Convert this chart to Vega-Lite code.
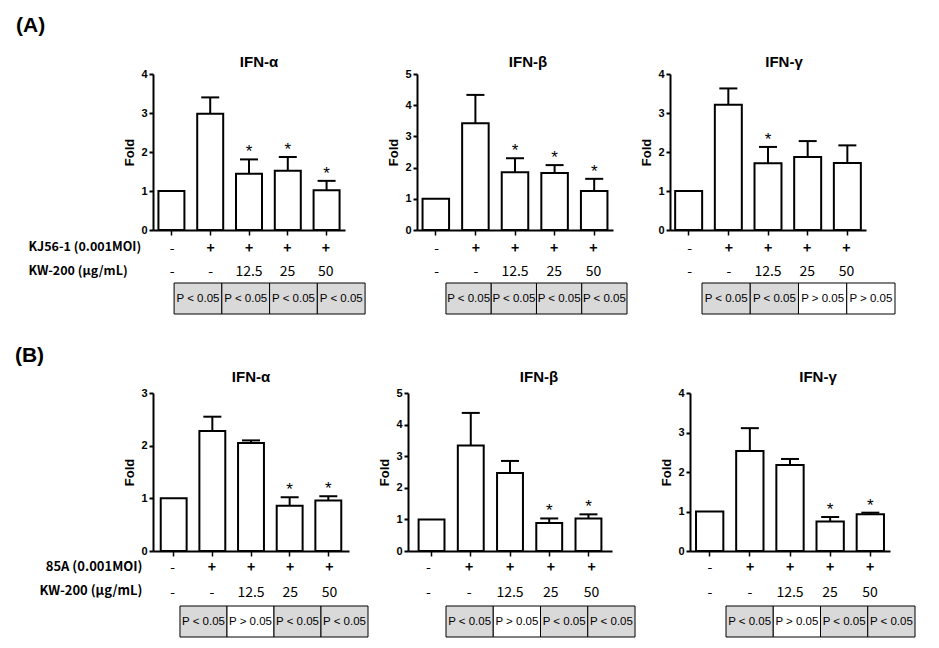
{
 "$schema": "https://vega.github.io/schema/vega-lite/v6.json",
 "padding": {"left": 14, "top": 15, "right": 5, "bottom": 5},
 "config": {
  "font": "Liberation Sans",
  "view": {"stroke": null},
  "axis": {"grid": false, "domainColor": "black", "tickColor": "black", "labelColor": "black", "titleColor": "black"},
  "title": {"color": "black", "fontWeight": "bold", "font": "Liberation Sans"}
 },
 "datasets": {
  "bars": [
   {"panel": "A1", "group": 1, "value": 1.0, "top": 1.0, "star": false},
   {"panel": "A1", "group": 2, "value": 2.98, "top": 3.40, "star": false},
   {"panel": "A1", "group": 3, "value": 1.44, "top": 1.81, "star": true},
   {"panel": "A1", "group": 4, "value": 1.52, "top": 1.87, "star": true},
   {"panel": "A1", "group": 5, "value": 1.02, "top": 1.26, "star": true},
   {"panel": "A2", "group": 1, "value": 1.0, "top": 1.0, "star": false},
   {"panel": "A2", "group": 2, "value": 3.42, "top": 4.33, "star": false},
   {"panel": "A2", "group": 3, "value": 1.85, "top": 2.30, "star": true},
   {"panel": "A2", "group": 4, "value": 1.83, "top": 2.08, "star": true},
   {"panel": "A2", "group": 5, "value": 1.25, "top": 1.64, "star": true},
   {"panel": "A3", "group": 1, "value": 1.0, "top": 1.0, "star": false},
   {"panel": "A3", "group": 2, "value": 3.21, "top": 3.63, "star": false},
   {"panel": "A3", "group": 3, "value": 1.71, "top": 2.13, "star": true},
   {"panel": "A3", "group": 4, "value": 1.87, "top": 2.28, "star": false},
   {"panel": "A3", "group": 5, "value": 1.72, "top": 2.17, "star": false},
   {"panel": "B1", "group": 1, "value": 1.0, "top": 1.0, "star": false},
   {"panel": "B1", "group": 2, "value": 2.28, "top": 2.55, "star": false},
   {"panel": "B1", "group": 3, "value": 2.05, "top": 2.10, "star": false},
   {"panel": "B1", "group": 4, "value": 0.86, "top": 1.02, "star": true},
   {"panel": "B1", "group": 5, "value": 0.96, "top": 1.04, "star": true},
   {"panel": "B2", "group": 1, "value": 1.0, "top": 1.0, "star": false},
   {"panel": "B2", "group": 2, "value": 3.34, "top": 4.37, "star": false},
   {"panel": "B2", "group": 3, "value": 2.47, "top": 2.85, "star": false},
   {"panel": "B2", "group": 4, "value": 0.89, "top": 1.03, "star": true},
   {"panel": "B2", "group": 5, "value": 1.03, "top": 1.16, "star": true},
   {"panel": "B3", "group": 1, "value": 1.0, "top": 1.0, "star": false},
   {"panel": "B3", "group": 2, "value": 2.53, "top": 3.11, "star": false},
   {"panel": "B3", "group": 3, "value": 2.18, "top": 2.33, "star": false},
   {"panel": "B3", "group": 4, "value": 0.75, "top": 0.86, "star": true},
   {"panel": "B3", "group": 5, "value": 0.93, "top": 0.97, "star": true}
  ],
  "cond": [
   {"set": "A", "row": "KJ56-1 (0.001MOI)", "group": 1, "label": "-"},
   {"set": "A", "row": "KJ56-1 (0.001MOI)", "group": 2, "label": "+"},
   {"set": "A", "row": "KJ56-1 (0.001MOI)", "group": 3, "label": "+"},
   {"set": "A", "row": "KJ56-1 (0.001MOI)", "group": 4, "label": "+"},
   {"set": "A", "row": "KJ56-1 (0.001MOI)", "group": 5, "label": "+"},
   {"set": "A", "row": "KW-200 (μg/mL)", "group": 1, "label": "-"},
   {"set": "A", "row": "KW-200 (μg/mL)", "group": 2, "label": "-"},
   {"set": "A", "row": "KW-200 (μg/mL)", "group": 3, "label": "12.5"},
   {"set": "A", "row": "KW-200 (μg/mL)", "group": 4, "label": "25"},
   {"set": "A", "row": "KW-200 (μg/mL)", "group": 5, "label": "50"},
   {"set": "B", "row": "85A (0.001MOI)", "group": 1, "label": "-"},
   {"set": "B", "row": "85A (0.001MOI)", "group": 2, "label": "+"},
   {"set": "B", "row": "85A (0.001MOI)", "group": 3, "label": "+"},
   {"set": "B", "row": "85A (0.001MOI)", "group": 4, "label": "+"},
   {"set": "B", "row": "85A (0.001MOI)", "group": 5, "label": "+"},
   {"set": "B", "row": "KW-200 (μg/mL)", "group": 1, "label": "-"},
   {"set": "B", "row": "KW-200 (μg/mL)", "group": 2, "label": "-"},
   {"set": "B", "row": "KW-200 (μg/mL)", "group": 3, "label": "12.5"},
   {"set": "B", "row": "KW-200 (μg/mL)", "group": 4, "label": "25"},
   {"set": "B", "row": "KW-200 (μg/mL)", "group": 5, "label": "50"}
  ],
  "ptab": [
   {"panel": "A1", "cell": 1, "p": "P < 0.05"},
   {"panel": "A1", "cell": 2, "p": "P < 0.05"},
   {"panel": "A1", "cell": 3, "p": "P < 0.05"},
   {"panel": "A1", "cell": 4, "p": "P < 0.05"},
   {"panel": "A2", "cell": 1, "p": "P < 0.05"},
   {"panel": "A2", "cell": 2, "p": "P < 0.05"},
   {"panel": "A2", "cell": 3, "p": "P < 0.05"},
   {"panel": "A2", "cell": 4, "p": "P < 0.05"},
   {"panel": "A3", "cell": 1, "p": "P < 0.05"},
   {"panel": "A3", "cell": 2, "p": "P < 0.05"},
   {"panel": "A3", "cell": 3, "p": "P > 0.05"},
   {"panel": "A3", "cell": 4, "p": "P > 0.05"},
   {"panel": "B1", "cell": 1, "p": "P < 0.05"},
   {"panel": "B1", "cell": 2, "p": "P > 0.05"},
   {"panel": "B1", "cell": 3, "p": "P < 0.05"},
   {"panel": "B1", "cell": 4, "p": "P < 0.05"},
   {"panel": "B2", "cell": 1, "p": "P < 0.05"},
   {"panel": "B2", "cell": 2, "p": "P > 0.05"},
   {"panel": "B2", "cell": 3, "p": "P < 0.05"},
   {"panel": "B2", "cell": 4, "p": "P < 0.05"},
   {"panel": "B3", "cell": 1, "p": "P < 0.05"},
   {"panel": "B3", "cell": 2, "p": "P > 0.05"},
   {"panel": "B3", "cell": 3, "p": "P < 0.05"},
   {"panel": "B3", "cell": 4, "p": "P < 0.05"}
  ]
 },
 "spacing": 30,
 "resolve": {"scale": {"x": "independent", "y": "independent"}},
 "vconcat": [
  {
   "title": {"text": "(A)", "anchor": "start", "fontSize": 21, "offset": 19, "dx": -12},
   "spacing": 12,
   "resolve": {"scale": {"x": "independent", "y": "independent"}},
   "hconcat": [
    {
     "spacing": 3, "bounds": "flush",
     "resolve": {"scale": {"x": "independent", "y": "independent"}},
     "vconcat": [
      {
       "width": 192, "height": 156,
       "title": {"text": "IFN-α", "fontSize": 15, "dx": 10, "offset": -2},
       "data": {"name": "bars"},
       "transform": [{"filter": "datum.panel === 'A1'"}],
       "encoding": {
        "x": {"field": "group", "type": "ordinal", "scale": {"domain": [1, 2, 3, 4, 5], "paddingInner": 0.33, "paddingOuter": 0.14}, "axis": {"labels": false, "title": null, "tickSize": 5, "tickWidth": 1.5, "domainWidth": 2}},
        "y": {"field": "value", "type": "quantitative", "scale": {"domain": [0, 4], "nice": false}, "axis": {"title": "Fold", "values": [0, 1, 2, 3, 4], "labelFontWeight": "bold", "labelFontSize": 11, "tickSize": 4, "tickWidth": 2, "domainWidth": 2, "labelPadding": 2, "titleFontSize": 13, "titleFontWeight": "bold", "titlePadding": 4}}
       },
       "layer": [
        {"mark": {"type": "bar", "fill": "white", "stroke": "black", "strokeWidth": 2}},
        {"transform": [{"filter": "datum.top > datum.value"}], "mark": {"type": "rule", "strokeWidth": 2, "color": "black"}, "encoding": {"y2": {"field": "top"}}},
        {"transform": [{"filter": "datum.top > datum.value"}], "mark": {"type": "tick", "orient": "horizontal", "size": 18, "thickness": 2, "color": "black", "opacity": 1}, "encoding": {"y": {"field": "top", "type": "quantitative"}}},
        {"transform": [{"filter": "datum.star"}], "mark": {"type": "text", "text": "*", "fontSize": 17, "baseline": "alphabetic", "dy": -2}, "encoding": {"y": {"field": "top", "type": "quantitative"}}}
       ]
      },
      {
       "width": 192, "height": 47,
       "data": {"name": "cond"},
       "transform": [{"filter": "datum.set === 'A'"}],
       "encoding": {
        "x": {"field": "group", "type": "ordinal", "scale": {"domain": [1, 2, 3, 4, 5], "paddingInner": 0.33, "paddingOuter": 0.14}, "axis": null},
        "y": {"field": "row", "type": "nominal", "scale": {"domain": ["KJ56-1 (0.001MOI)", "KW-200 (μg/mL)"], "paddingInner": 0, "paddingOuter": 0}, "axis": {"title": null, "domain": false, "ticks": false, "labelAlign": "left", "labelPadding": 125, "labelFontWeight": "bold", "labelFontSize": 12.5, "labelFont": "Noto Sans CJK KR", "labelOffset": 2}},
        "text": {"field": "label", "type": "nominal"}
       },
       "layer": [
        {"transform": [{"filter": "datum.label !== '+'"}], "mark": {"type": "text", "fontSize": 14, "dy": 4, "font": "Noto Sans CJK KR"}},
        {"transform": [{"filter": "datum.label === '+'"}], "mark": {"type": "text", "fontSize": 14, "fontWeight": "bold", "dy": 4, "font": "Noto Sans CJK KR"}}
       ]
      },
      {
       "width": 222, "height": 31,
       "data": {"name": "ptab"},
       "transform": [{"filter": "datum.panel === 'A1'"}],
       "encoding": {"x": {"field": "cell", "type": "ordinal", "scale": {"domain": [1, 2, 3, 4], "paddingInner": 0, "paddingOuter": 0.3246, "align": 0.68}, "axis": null}},
       "layer": [
        {"mark": {"type": "rect", "stroke": "black", "strokeWidth": 1}, "encoding": {"fill": {"field": "p", "type": "nominal", "scale": {"domain": ["P < 0.05", "P > 0.05"], "range": ["#d9d9d9", "#ffffff"]}, "legend": null}}},
        {"mark": {"type": "text", "fontSize": 11.5}, "encoding": {"text": {"field": "p", "type": "nominal"}}}
       ]
      }
     ]
    },
    {
     "spacing": 3, "bounds": "flush",
     "resolve": {"scale": {"x": "independent", "y": "independent"}},
     "vconcat": [
      {
       "width": 196, "height": 156,
       "title": {"text": "IFN-β", "fontSize": 15, "dx": 13, "offset": -2},
       "data": {"name": "bars"},
       "transform": [{"filter": "datum.panel === 'A2'"}],
       "encoding": {
        "x": {"field": "group", "type": "ordinal", "scale": {"domain": [1, 2, 3, 4, 5], "paddingInner": 0.33, "paddingOuter": 0.14}, "axis": {"labels": false, "title": null, "tickSize": 5, "tickWidth": 1.5, "domainWidth": 2}},
        "y": {"field": "value", "type": "quantitative", "scale": {"domain": [0, 5], "nice": false}, "axis": {"title": "Fold", "values": [0, 1, 2, 3, 4, 5], "labelFontWeight": "bold", "labelFontSize": 11, "tickSize": 4, "tickWidth": 2, "domainWidth": 2, "labelPadding": 2, "titleFontSize": 13, "titleFontWeight": "bold", "titlePadding": 4}}
       },
       "layer": [
        {"mark": {"type": "bar", "fill": "white", "stroke": "black", "strokeWidth": 2}},
        {"transform": [{"filter": "datum.top > datum.value"}], "mark": {"type": "rule", "strokeWidth": 2, "color": "black"}, "encoding": {"y2": {"field": "top"}}},
        {"transform": [{"filter": "datum.top > datum.value"}], "mark": {"type": "tick", "orient": "horizontal", "size": 18, "thickness": 2, "color": "black", "opacity": 1}, "encoding": {"y": {"field": "top", "type": "quantitative"}}},
        {"transform": [{"filter": "datum.star"}], "mark": {"type": "text", "text": "*", "fontSize": 17, "baseline": "alphabetic", "dy": -2}, "encoding": {"y": {"field": "top", "type": "quantitative"}}}
       ]
      },
      {
       "width": 196, "height": 47,
       "data": {"name": "cond"},
       "transform": [{"filter": "datum.set === 'A'"}],
       "encoding": {
        "x": {"field": "group", "type": "ordinal", "scale": {"domain": [1, 2, 3, 4, 5], "paddingInner": 0.33, "paddingOuter": 0.14}, "axis": null},
        "y": {"field": "row", "type": "nominal", "scale": {"domain": ["KJ56-1 (0.001MOI)", "KW-200 (μg/mL)"], "paddingInner": 0, "paddingOuter": 0}, "axis": null},
        "text": {"field": "label", "type": "nominal"}
       },
       "layer": [
        {"transform": [{"filter": "datum.label !== '+'"}], "mark": {"type": "text", "fontSize": 14, "dy": 4, "font": "Noto Sans CJK KR"}},
        {"transform": [{"filter": "datum.label === '+'"}], "mark": {"type": "text", "fontSize": 14, "fontWeight": "bold", "dy": 4, "font": "Noto Sans CJK KR"}}
       ]
      },
      {
       "width": 210, "height": 31,
       "data": {"name": "ptab"},
       "transform": [{"filter": "datum.panel === 'A2'"}],
       "encoding": {"x": {"field": "cell", "type": "ordinal", "scale": {"domain": [1, 2, 3, 4], "paddingInner": 0, "paddingOuter": 0.32, "align": 1}, "axis": null}},
       "layer": [
        {"mark": {"type": "rect", "stroke": "black", "strokeWidth": 1}, "encoding": {"fill": {"field": "p", "type": "nominal", "scale": {"domain": ["P < 0.05", "P > 0.05"], "range": ["#d9d9d9", "#ffffff"]}, "legend": null}}},
        {"mark": {"type": "text", "fontSize": 11.5}, "encoding": {"text": {"field": "p", "type": "nominal"}}}
       ]
      }
     ]
    },
    {
     "spacing": 3, "bounds": "flush",
     "resolve": {"scale": {"x": "independent", "y": "independent"}},
     "vconcat": [
      {
       "width": 196, "height": 156,
       "title": {"text": "IFN-γ", "fontSize": 15, "dx": 16, "offset": -2},
       "data": {"name": "bars"},
       "transform": [{"filter": "datum.panel === 'A3'"}],
       "encoding": {
        "x": {"field": "group", "type": "ordinal", "scale": {"domain": [1, 2, 3, 4, 5], "paddingInner": 0.32, "paddingOuter": 0.13}, "axis": {"labels": false, "title": null, "tickSize": 5, "tickWidth": 1.5, "domainWidth": 2}},
        "y": {"field": "value", "type": "quantitative", "scale": {"domain": [0, 4], "nice": false}, "axis": {"title": "Fold", "values": [0, 1, 2, 3, 4], "labelFontWeight": "bold", "labelFontSize": 11, "tickSize": 4, "tickWidth": 2, "domainWidth": 2, "labelPadding": 2, "titleFontSize": 13, "titleFontWeight": "bold", "titlePadding": 4}}
       },
       "layer": [
        {"mark": {"type": "bar", "fill": "white", "stroke": "black", "strokeWidth": 2}},
        {"transform": [{"filter": "datum.top > datum.value"}], "mark": {"type": "rule", "strokeWidth": 2, "color": "black"}, "encoding": {"y2": {"field": "top"}}},
        {"transform": [{"filter": "datum.top > datum.value"}], "mark": {"type": "tick", "orient": "horizontal", "size": 18, "thickness": 2, "color": "black", "opacity": 1}, "encoding": {"y": {"field": "top", "type": "quantitative"}}},
        {"transform": [{"filter": "datum.star"}], "mark": {"type": "text", "text": "*", "fontSize": 17, "baseline": "alphabetic", "dy": -2}, "encoding": {"y": {"field": "top", "type": "quantitative"}}}
       ]
      },
      {
       "width": 196, "height": 47,
       "data": {"name": "cond"},
       "transform": [{"filter": "datum.set === 'A'"}],
       "encoding": {
        "x": {"field": "group", "type": "ordinal", "scale": {"domain": [1, 2, 3, 4, 5], "paddingInner": 0.32, "paddingOuter": 0.13}, "axis": null},
        "y": {"field": "row", "type": "nominal", "scale": {"domain": ["KJ56-1 (0.001MOI)", "KW-200 (μg/mL)"], "paddingInner": 0, "paddingOuter": 0}, "axis": null},
        "text": {"field": "label", "type": "nominal"}
       },
       "layer": [
        {"transform": [{"filter": "datum.label !== '+'"}], "mark": {"type": "text", "fontSize": 14, "dy": 4, "font": "Noto Sans CJK KR"}},
        {"transform": [{"filter": "datum.label === '+'"}], "mark": {"type": "text", "fontSize": 14, "fontWeight": "bold", "dy": 4, "font": "Noto Sans CJK KR"}}
       ]
      },
      {
       "width": 225, "height": 31,
       "data": {"name": "ptab"},
       "transform": [{"filter": "datum.panel === 'A3'"}],
       "encoding": {"x": {"field": "cell", "type": "ordinal", "scale": {"domain": [1, 2, 3, 4], "paddingInner": 0, "paddingOuter": 0.3316, "align": 1}, "axis": null}},
       "layer": [
        {"mark": {"type": "rect", "stroke": "black", "strokeWidth": 1}, "encoding": {"fill": {"field": "p", "type": "nominal", "scale": {"domain": ["P < 0.05", "P > 0.05"], "range": ["#d9d9d9", "#ffffff"]}, "legend": null}}},
        {"mark": {"type": "text", "fontSize": 11.5}, "encoding": {"text": {"field": "p", "type": "nominal"}}}
       ]
      }
     ]
    }
   ]
  },
  {
   "title": {"text": "(B)", "anchor": "start", "fontSize": 21, "offset": 4, "dx": -24},
   "spacing": 9,
   "resolve": {"scale": {"x": "independent", "y": "independent"}},
   "hconcat": [
    {
     "spacing": 3, "bounds": "flush",
     "resolve": {"scale": {"x": "independent", "y": "independent"}},
     "vconcat": [
      {
       "width": 196, "height": 158,
       "title": {"text": "IFN-α", "fontSize": 15, "dx": 0, "offset": 2},
       "data": {"name": "bars"},
       "transform": [{"filter": "datum.panel === 'B1'"}],
       "encoding": {
        "x": {"field": "group", "type": "ordinal", "scale": {"domain": [1, 2, 3, 4, 5], "paddingInner": 0.33, "paddingOuter": 0.2}, "axis": {"labels": false, "title": null, "tickSize": 5, "tickWidth": 1.5, "domainWidth": 2}},
        "y": {"field": "value", "type": "quantitative", "scale": {"domain": [0, 3], "nice": false}, "axis": {"title": "Fold", "values": [0, 1, 2, 3], "labelFontWeight": "bold", "labelFontSize": 11, "tickSize": 4, "tickWidth": 2, "domainWidth": 2, "labelPadding": 2, "titleFontSize": 13, "titleFontWeight": "bold", "titlePadding": 4}}
       },
       "layer": [
        {"mark": {"type": "bar", "fill": "white", "stroke": "black", "strokeWidth": 2}},
        {"transform": [{"filter": "datum.top > datum.value"}], "mark": {"type": "rule", "strokeWidth": 2, "color": "black"}, "encoding": {"y2": {"field": "top"}}},
        {"transform": [{"filter": "datum.top > datum.value"}], "mark": {"type": "tick", "orient": "horizontal", "size": 18, "thickness": 2, "color": "black", "opacity": 1}, "encoding": {"y": {"field": "top", "type": "quantitative"}}},
        {"transform": [{"filter": "datum.star"}], "mark": {"type": "text", "text": "*", "fontSize": 17, "baseline": "alphabetic", "dy": -2}, "encoding": {"y": {"field": "top", "type": "quantitative"}}}
       ]
      },
      {
       "width": 196, "height": 49,
       "data": {"name": "cond"},
       "transform": [{"filter": "datum.set === 'B'"}],
       "encoding": {
        "x": {"field": "group", "type": "ordinal", "scale": {"domain": [1, 2, 3, 4, 5], "paddingInner": 0.33, "paddingOuter": 0.2}, "axis": null},
        "y": {"field": "row", "type": "nominal", "scale": {"domain": ["85A (0.001MOI)", "KW-200 (μg/mL)"], "paddingInner": 0, "paddingOuter": 0}, "axis": {"title": null, "domain": false, "ticks": false, "labelAlign": "right", "labelPadding": 11, "labelFontWeight": "bold", "labelFontSize": 13, "labelFont": "Noto Sans CJK KR"}},
        "text": {"field": "label", "type": "nominal"}
       },
       "layer": [
        {"transform": [{"filter": "datum.label !== '+'"}], "mark": {"type": "text", "fontSize": 14, "dy": 2, "font": "Noto Sans CJK KR"}},
        {"transform": [{"filter": "datum.label === '+'"}], "mark": {"type": "text", "fontSize": 14, "fontWeight": "bold", "dy": 2, "font": "Noto Sans CJK KR"}}
       ]
      },
      {
       "width": 215, "height": 31,
       "data": {"name": "ptab"},
       "transform": [{"filter": "datum.panel === 'B1'"}],
       "encoding": {"x": {"field": "cell", "type": "ordinal", "scale": {"domain": [1, 2, 3, 4], "paddingInner": 0, "paddingOuter": 0.287, "align": 1}, "axis": null}},
       "layer": [
        {"mark": {"type": "rect", "stroke": "black", "strokeWidth": 1}, "encoding": {"fill": {"field": "p", "type": "nominal", "scale": {"domain": ["P < 0.05", "P > 0.05"], "range": ["#d9d9d9", "#ffffff"]}, "legend": null}}},
        {"mark": {"type": "text", "fontSize": 11.5}, "encoding": {"text": {"field": "p", "type": "nominal"}}}
       ]
      }
     ]
    },
    {
     "spacing": 3, "bounds": "flush",
     "resolve": {"scale": {"x": "independent", "y": "independent"}},
     "vconcat": [
      {
       "width": 204, "height": 158,
       "title": {"text": "IFN-β", "fontSize": 15, "dx": 29, "offset": 2},
       "data": {"name": "bars"},
       "transform": [{"filter": "datum.panel === 'B2'"}],
       "encoding": {
        "x": {"field": "group", "type": "ordinal", "scale": {"domain": [1, 2, 3, 4, 5], "paddingInner": 0.34, "paddingOuter": 0.27}, "axis": {"labels": false, "title": null, "tickSize": 5, "tickWidth": 1.5, "domainWidth": 2}},
        "y": {"field": "value", "type": "quantitative", "scale": {"domain": [0, 5], "nice": false}, "axis": {"title": "Fold", "values": [0, 1, 2, 3, 4, 5], "labelFontWeight": "bold", "labelFontSize": 11, "tickSize": 4, "tickWidth": 2, "domainWidth": 2, "labelPadding": 2, "titleFontSize": 13, "titleFontWeight": "bold", "titlePadding": 4}}
       },
       "layer": [
        {"mark": {"type": "bar", "fill": "white", "stroke": "black", "strokeWidth": 2}},
        {"transform": [{"filter": "datum.top > datum.value"}], "mark": {"type": "rule", "strokeWidth": 2, "color": "black"}, "encoding": {"y2": {"field": "top"}}},
        {"transform": [{"filter": "datum.top > datum.value"}], "mark": {"type": "tick", "orient": "horizontal", "size": 18, "thickness": 2, "color": "black", "opacity": 1}, "encoding": {"y": {"field": "top", "type": "quantitative"}}},
        {"transform": [{"filter": "datum.star"}], "mark": {"type": "text", "text": "*", "fontSize": 17, "baseline": "alphabetic", "dy": -2}, "encoding": {"y": {"field": "top", "type": "quantitative"}}}
       ]
      },
      {
       "width": 204, "height": 49,
       "data": {"name": "cond"},
       "transform": [{"filter": "datum.set === 'B'"}],
       "encoding": {
        "x": {"field": "group", "type": "ordinal", "scale": {"domain": [1, 2, 3, 4, 5], "paddingInner": 0.34, "paddingOuter": 0.27}, "axis": null},
        "y": {"field": "row", "type": "nominal", "scale": {"domain": ["85A (0.001MOI)", "KW-200 (μg/mL)"], "paddingInner": 0, "paddingOuter": 0}, "axis": null},
        "text": {"field": "label", "type": "nominal"}
       },
       "layer": [
        {"transform": [{"filter": "datum.label !== '+'"}], "mark": {"type": "text", "fontSize": 14, "dy": 2, "font": "Noto Sans CJK KR"}},
        {"transform": [{"filter": "datum.label === '+'"}], "mark": {"type": "text", "fontSize": 14, "fontWeight": "bold", "dy": 2, "font": "Noto Sans CJK KR"}}
       ]
      },
      {
       "width": 243, "height": 31,
       "data": {"name": "ptab"},
       "transform": [{"filter": "datum.panel === 'B2'"}],
       "encoding": {"x": {"field": "cell", "type": "ordinal", "scale": {"domain": [1, 2, 3, 4], "paddingInner": 0, "paddingOuter": 0.571, "align": 0.704}, "axis": null}},
       "layer": [
        {"mark": {"type": "rect", "stroke": "black", "strokeWidth": 1}, "encoding": {"fill": {"field": "p", "type": "nominal", "scale": {"domain": ["P < 0.05", "P > 0.05"], "range": ["#d9d9d9", "#ffffff"]}, "legend": null}}},
        {"mark": {"type": "text", "fontSize": 11.5}, "encoding": {"text": {"field": "p", "type": "nominal"}}}
       ]
      }
     ]
    },
    {
     "spacing": 3, "bounds": "flush",
     "resolve": {"scale": {"x": "independent", "y": "independent"}},
     "vconcat": [
      {
       "width": 200, "height": 158,
       "title": {"text": "IFN-γ", "fontSize": 15, "dx": 28, "offset": 2},
       "data": {"name": "bars"},
       "transform": [{"filter": "datum.panel === 'B3'"}],
       "encoding": {
        "x": {"field": "group", "type": "ordinal", "scale": {"domain": [1, 2, 3, 4, 5], "paddingInner": 0.32, "paddingOuter": 0.15}, "axis": {"labels": false, "title": null, "tickSize": 5, "tickWidth": 1.5, "domainWidth": 2}},
        "y": {"field": "value", "type": "quantitative", "scale": {"domain": [0, 4], "nice": false}, "axis": {"title": "Fold", "values": [0, 1, 2, 3, 4], "labelFontWeight": "bold", "labelFontSize": 11, "tickSize": 4, "tickWidth": 2, "domainWidth": 2, "labelPadding": 2, "titleFontSize": 13, "titleFontWeight": "bold", "titlePadding": 4}}
       },
       "layer": [
        {"mark": {"type": "bar", "fill": "white", "stroke": "black", "strokeWidth": 2}},
        {"transform": [{"filter": "datum.top > datum.value"}], "mark": {"type": "rule", "strokeWidth": 2, "color": "black"}, "encoding": {"y2": {"field": "top"}}},
        {"transform": [{"filter": "datum.top > datum.value"}], "mark": {"type": "tick", "orient": "horizontal", "size": 18, "thickness": 2, "color": "black", "opacity": 1}, "encoding": {"y": {"field": "top", "type": "quantitative"}}},
        {"transform": [{"filter": "datum.star"}], "mark": {"type": "text", "text": "*", "fontSize": 17, "baseline": "alphabetic", "dy": -2}, "encoding": {"y": {"field": "top", "type": "quantitative"}}}
       ]
      },
      {
       "width": 200, "height": 49,
       "data": {"name": "cond"},
       "transform": [{"filter": "datum.set === 'B'"}],
       "encoding": {
        "x": {"field": "group", "type": "ordinal", "scale": {"domain": [1, 2, 3, 4, 5], "paddingInner": 0.32, "paddingOuter": 0.15}, "axis": null},
        "y": {"field": "row", "type": "nominal", "scale": {"domain": ["85A (0.001MOI)", "KW-200 (μg/mL)"], "paddingInner": 0, "paddingOuter": 0}, "axis": null},
        "text": {"field": "label", "type": "nominal"}
       },
       "layer": [
        {"transform": [{"filter": "datum.label !== '+'"}], "mark": {"type": "text", "fontSize": 14, "dy": 2, "font": "Noto Sans CJK KR"}},
        {"transform": [{"filter": "datum.label === '+'"}], "mark": {"type": "text", "fontSize": 14, "fontWeight": "bold", "dy": 2, "font": "Noto Sans CJK KR"}}
       ]
      },
      {
       "width": 225, "height": 31,
       "data": {"name": "ptab"},
       "transform": [{"filter": "datum.panel === 'B3'"}],
       "encoding": {"x": {"field": "cell", "type": "ordinal", "scale": {"domain": [1, 2, 3, 4], "paddingInner": 0, "paddingOuter": 0.381, "align": 1}, "axis": null}},
       "layer": [
        {"mark": {"type": "rect", "stroke": "black", "strokeWidth": 1}, "encoding": {"fill": {"field": "p", "type": "nominal", "scale": {"domain": ["P < 0.05", "P > 0.05"], "range": ["#d9d9d9", "#ffffff"]}, "legend": null}}},
        {"mark": {"type": "text", "fontSize": 11.5}, "encoding": {"text": {"field": "p", "type": "nominal"}}}
       ]
      }
     ]
    }
   ]
  }
 ]
}
